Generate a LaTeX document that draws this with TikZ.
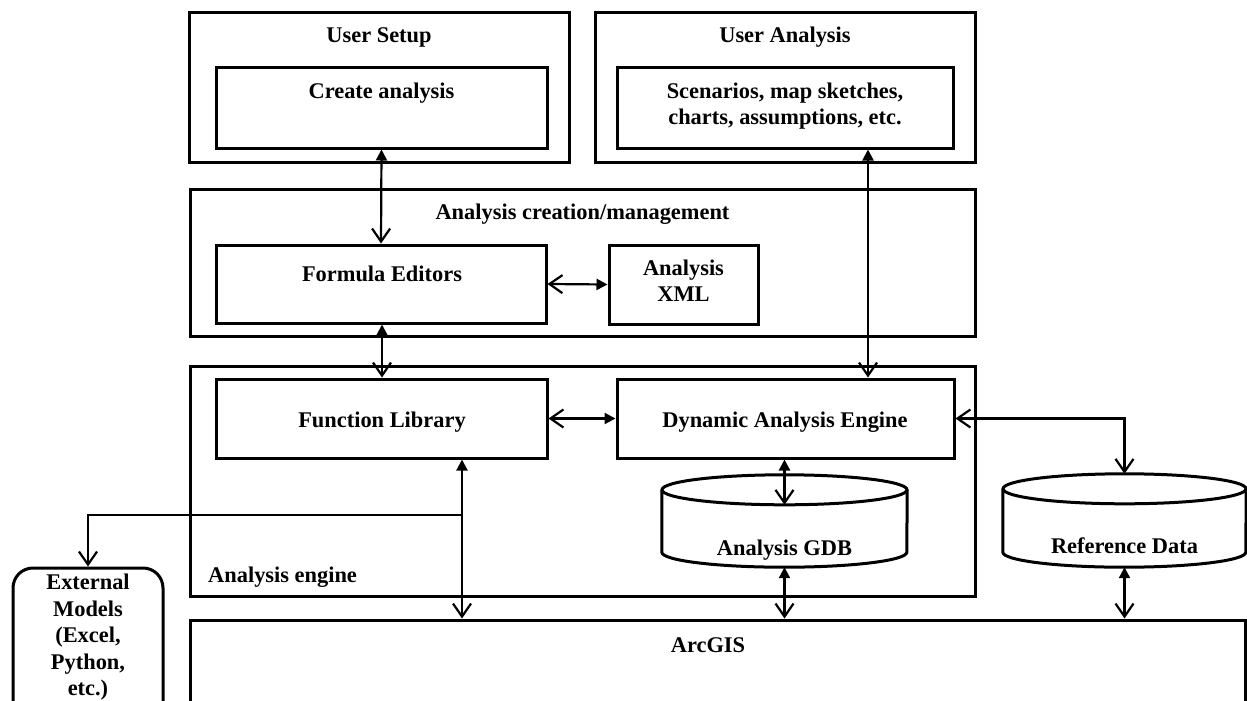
\documentclass[tikz,border=0pt]{standalone}
\usepackage{fontspec}
\setmainfont{Liberation Serif}
\usetikzlibrary{arrows.meta}

\begin{document}
\begin{tikzpicture}[x=1pt,y=1pt,
    font=\fontsize{22.4}{26}\selectfont\bfseries,
    box/.style={draw,line width=3pt,inner sep=0pt},
    txt/.style={inner sep=0pt,anchor=base},
    cyl/.style={line width=3pt},
    fillopen/.style={line width=2.2pt,{Triangle[length=11pt,width=11pt]}-{Straight Barb[length=13pt,width=18pt]}},
    openfill/.style={line width=2.2pt,{Straight Barb[length=13pt,width=18pt]}-{Triangle[length=11pt,width=11pt]}},
    openopen/.style={line width=2.2pt,{Straight Barb[length=13pt,width=18pt]}-{Straight Barb[length=13pt,width=18pt]}},
    lineopen/.style={line width=2.2pt,-{Straight Barb[length=13pt,width=18pt]}}]
  \useasboundingbox (0,0) rectangle (1247,-701);

  % top row
  \draw (379,-87.5) node[box,minimum width=380,minimum height=149] (usersetup) {};
  \draw (381.5,-108) node[box,minimum width=331,minimum height=80] (createbox) {};
  \draw (785,-87.5) node[box,minimum width=380,minimum height=149] (useranalysis) {};
  \draw (785,-108) node[box,minimum width=336,minimum height=80] (scenbox) {};
    \draw (379,-43) node[txt] (setuptitle) {User Setup};
    \draw (381.5,-99) node[txt] (createtext) {Create analysis};
    \draw (785,-43) node[txt] (analysistitle) {User Analysis};
    \draw (785,-83) node[inner sep=0pt,anchor=north,align=center] (scentext) {Scenarios, map sketches,\\charts, assumptions, etc.};

  % analysis creation/management
  \draw (582.5,-262.5) node[box,minimum width=785,minimum height=147] (mgmtbox) {};
  \draw (381,-284) node[box,minimum width=330,minimum height=78] (formbox) {};
  \draw (683.5,-284.5) node[box,minimum width=149,minimum height=79] (xmlbox) {};
    \draw (582.5,-219) node[txt] (mgmttitle) {Analysis creation/management};
    \draw (382,-281) node[txt] (formtext) {Formula Editors};
    \draw (683.5,-260) node[inner sep=0pt,anchor=north,align=center] (xmltext) {Analysis\\XML};

  % analysis engine
  \draw (582.5,-481) node[box,minimum width=785,minimum height=230] (enginebox) {};
  \draw (381.5,-418.5) node[box,minimum width=331,minimum height=79] (funcbox) {};
  \draw (785.5,-418.5) node[box,minimum width=337,minimum height=79] (dynbox) {};
    \draw (382,-427) node[txt] (functext) {Function Library};
    \draw (785,-427) node[txt] (dyntext) {Dynamic Analysis Engine};
    \draw (208,-582) node[txt,anchor=base west] (enginetext) {Analysis engine};

  % data stores
  \draw (784.5,-521) node[inner sep=0pt,minimum width=245,minimum height=92] (gdb) {};
  \draw[cyl] ([yshift=-15]gdb.north west) -- ([yshift=15]gdb.south west)
     arc[start angle=180,end angle=360,x radius=122.5,y radius=15] -- ([yshift=-15]gdb.north east);
  \draw[cyl] ([yshift=-15]gdb.north) ellipse[x radius=122.5,y radius=15];
  \coordinate (gdbtop) at ([yshift=-30]gdb.north);
    \draw (784.5,-555) node[txt] (gdbtext) {Analysis GDB};

  \draw (1124.5,-520.5) node[inner sep=0pt,minimum width=243,minimum height=93] (refdata) {};
  \draw[cyl] ([yshift=-15]refdata.north west) -- ([yshift=15]refdata.south west)
     arc[start angle=180,end angle=360,x radius=121.5,y radius=15] -- ([yshift=-15]refdata.north east);
  \draw[cyl] ([yshift=-15]refdata.north) ellipse[x radius=121.5,y radius=15];
    \draw (1124.5,-553) node[txt] (reftext) {Reference Data};

  % bottom row
  \draw (717.5,-690) node[box,minimum width=1055,minimum height=140] (arcgis) {};
    \draw (708,-652) node[txt] (arctext) {ArcGIS};
  \draw (88,-648) node[box,rounded corners=20pt,minimum width=150,minimum height=160] (extmodels) {};
    \draw (88,-574) node[inner sep=0pt,anchor=north,align=center,font=\fontsize{22.4}{26.5}\selectfont\bfseries] (exttext) {External\\Models\\(Excel,\\Python,\\etc.)};

  \coordinate (split) at (462,-515);

  % connectors
  \path[fillopen] (createbox.south) edge (formbox.north);
  \path[openfill] (formbox.east) edge (xmlbox.west);
  \path[fillopen] ([xshift=83]scenbox.south) edge ([xshift=82.5]dynbox.north);
  \path[fillopen] ([xshift=1]formbox.south) edge ([xshift=0.5]funcbox.north);
  \path[openfill] (funcbox.east) edge (dynbox.west);
  \draw[openopen] (dynbox.east) -| (refdata.north);
  \path[fillopen] (gdb |- dynbox.south) edge (gdbtop);
  \path[fillopen] (gdb.south) edge (gdb |- arcgis.north);
  \path[fillopen] (refdata.south) edge (refdata.south |- arcgis.north);
  \path[fillopen] (split |- funcbox.south) edge (split |- arcgis.north);
  \draw[lineopen] (split) -| (extmodels.north);
\end{tikzpicture}
\end{document}
